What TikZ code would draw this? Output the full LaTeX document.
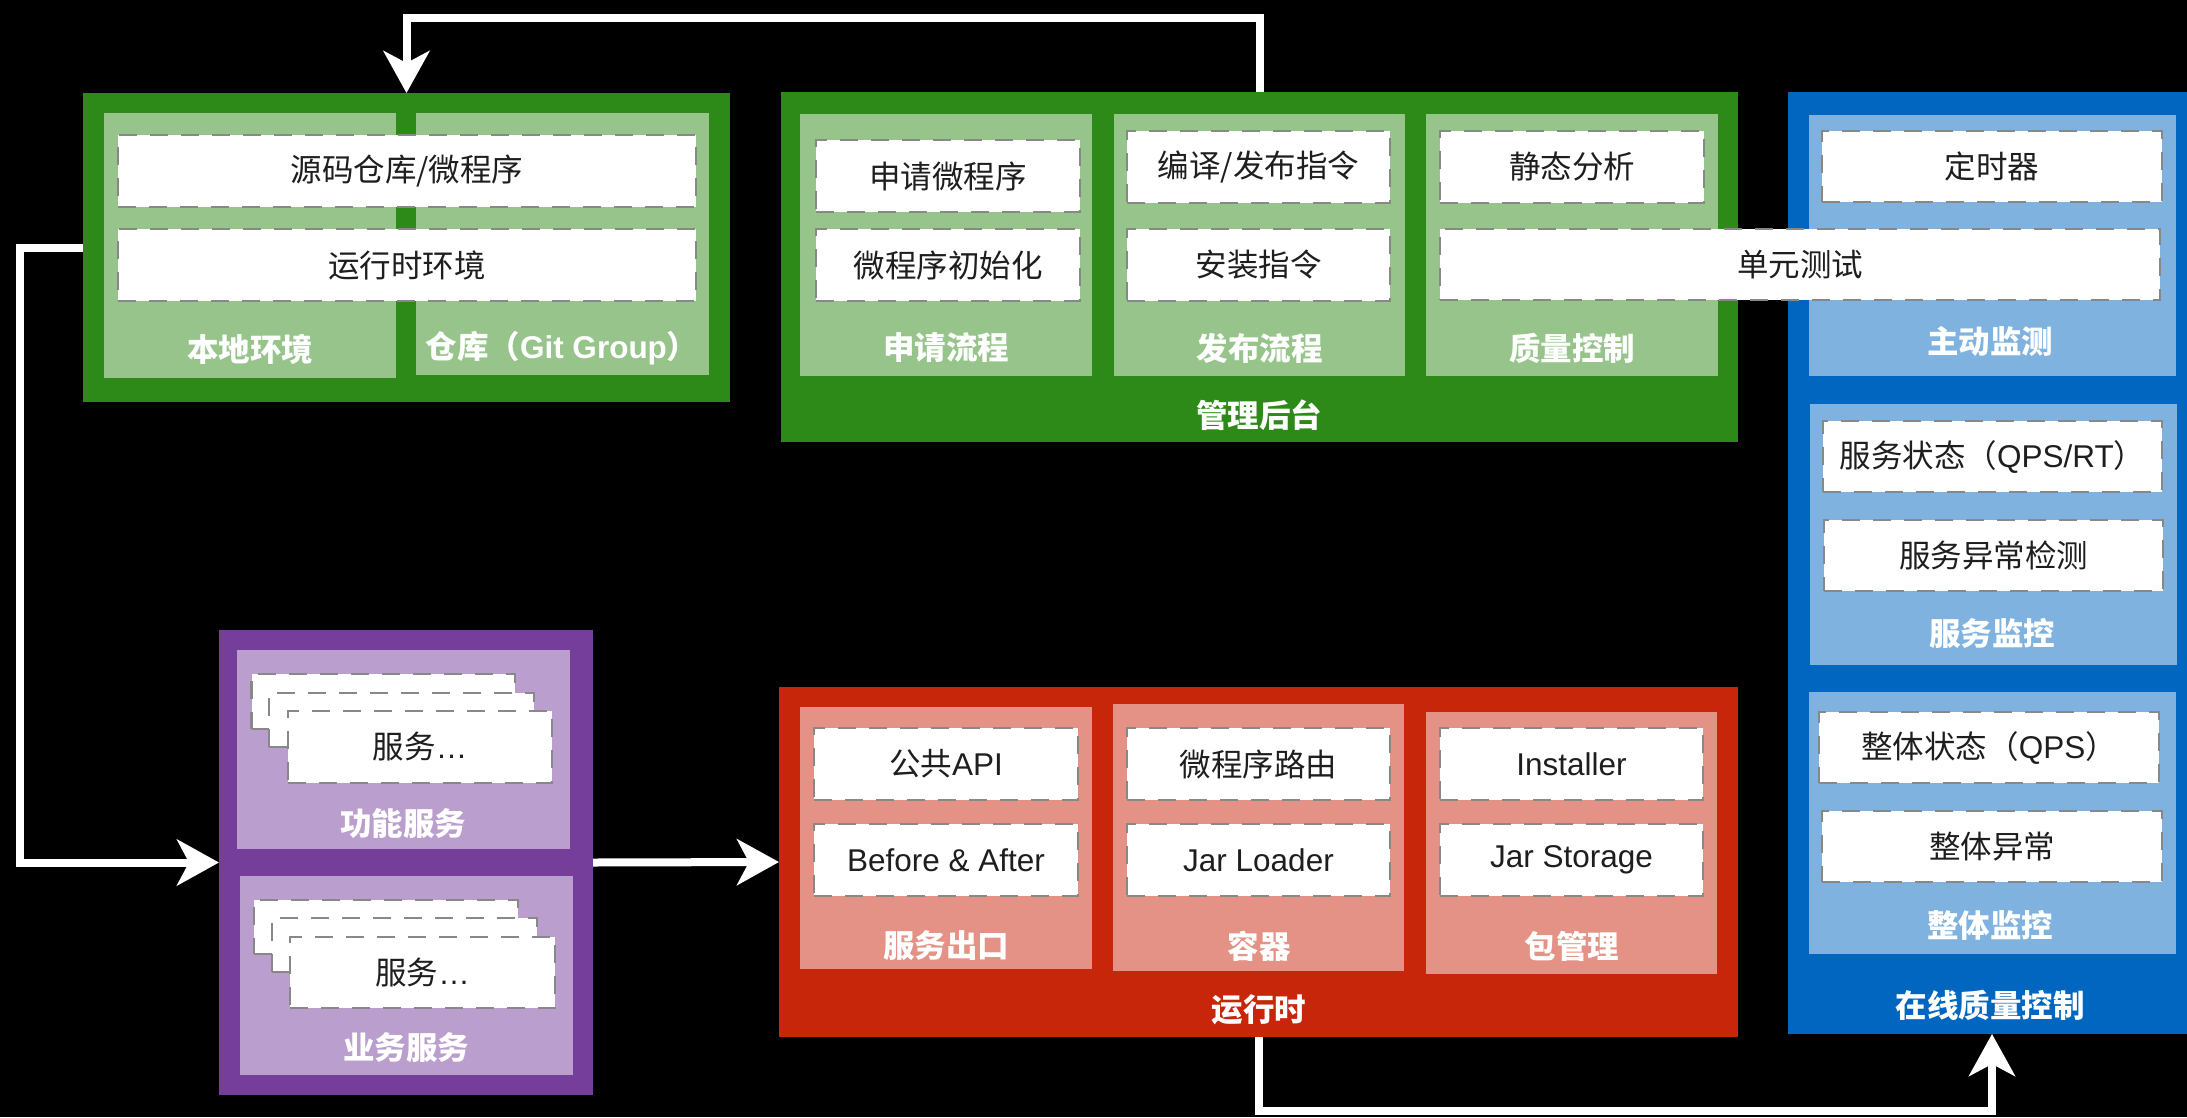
\documentclass[tikz,border=0pt]{standalone}
\usepackage{fontspec}
\setmainfont{Liberation Sans}
\newfontfamily\zh{Noto Sans CJK SC}
\usetikzlibrary{arrows.meta}
\definecolor{greenD}{RGB}{46,138,24}
\definecolor{greenL}{RGB}{150,196,139}
\definecolor{purpD}{RGB}{118,62,155}
\definecolor{purpL}{RGB}{186,158,205}
\definecolor{redD}{RGB}{200,38,10}
\definecolor{redL}{RGB}{227,146,133}
\definecolor{blueD}{RGB}{0,102,192}
\definecolor{blueL}{RGB}{127,178,223}
\definecolor{dashgray}{RGB}{136,136,136}
\definecolor{txtc}{RGB}{30,30,30}
\newcommand\txtfont{\fontsize{31.5}{36}\selectfont}
\newcommand\lblfont{\fontsize{31.5}{36}\selectfont\bfseries}
\newcommand\boxc[7]{\node[#1, minimum width={#4-#2}, minimum height={#5-#3}] (#6) at ({(#2+#4)/2},{(#3+#5)/2}) {#7};}
\tikzset{
  outerbox/.style={rectangle, inner sep=0pt, outer sep=0pt, draw=none},
  dbox/.style={rectangle, inner sep=0pt, outer sep=0pt, fill=white, draw=dashgray, line width=2.7pt, dash pattern=on 18pt off 13pt, font=\txtfont, text=txtc},
  lbl/.style={inner sep=0pt, font=\lblfont, text=white},
  conn/.style={draw=white, line width=8pt, -{Stealth[length=42pt,width=46pt,inset=12pt]}},
}
\begin{document}
\begin{tikzpicture}[x=1pt,y=-1pt]
\fill[black] (0,0) rectangle (2187,1117);
\useasboundingbox (0,0) rectangle (2187,1117);

% ---------- local env / repo ----------
\boxc{outerbox,fill=greenD}{83}{93}{730}{402}{G1}{}
\boxc{outerbox,fill=greenL}{104}{113}{396}{378}{G1a}{}
\boxc{outerbox,fill=greenL}{416}{113}{709}{375}{G1b}{}
\boxc{dbox}{118}{135}{696}{207}{d11}{\zh 源码仓库/微程序}
\boxc{dbox}{118}{229}{696}{301}{d12}{\zh 运行时环境}
\node[lbl] (l11) at (250,349) {\zh 本地环境};
\node[lbl] (l12) at (562,348) {{\zh 仓库（}Git Group{\zh ）}};

% ---------- admin ----------
\boxc{outerbox,fill=greenD}{781}{92}{1738}{442}{G2}{}
\boxc{outerbox,fill=greenL}{800}{114}{1092}{376}{G2a}{}
\boxc{outerbox,fill=greenL}{1114}{114}{1405}{376}{G2b}{}
\boxc{outerbox,fill=greenL}{1426}{114}{1718}{376}{G2c}{}
\boxc{dbox}{816}{140}{1080}{212}{d21}{\zh 申请微程序}
\boxc{dbox}{816}{229}{1080}{301}{d22}{\zh 微程序初始化}
\boxc{dbox}{1127}{131}{1390}{203}{d23}{\zh 编译/发布指令}
\boxc{dbox}{1127}{229}{1390}{301}{d24}{\zh 安装指令}
\boxc{dbox}{1440}{131}{1704}{203}{d25}{\zh 静态分析}
\node[lbl] (l21) at (946,348) {\zh 申请流程};
\node[lbl] (l22) at (1259.5,348) {\zh 发布流程};
\node[lbl] (l23) at (1572,348) {\zh 质量控制};
\node[lbl] (l24) at (1259,415) {\zh 管理后台};

% ---------- online quality ----------
\boxc{outerbox,fill=blueD}{1788}{92}{2196}{1034}{B}{}
\boxc{outerbox,fill=blueL}{1809}{115}{2176}{376}{Ba}{}
\boxc{outerbox,fill=blueL}{1810}{404}{2177}{665}{Bb}{}
\boxc{outerbox,fill=blueL}{1809}{692}{2176}{954}{Bc}{}
\boxc{dbox}{1822}{131}{2162}{202}{d31}{\zh 定时器}
\boxc{dbox}{1823}{421}{2162}{492}{d32}{{\zh 服务状态（}QPS/RT{\zh ）}}
\boxc{dbox}{1824}{520}{2163}{591}{d33}{\zh 服务异常检测}
\boxc{dbox}{1819}{712}{2159}{783}{d34}{{\zh 整体状态（}QPS{\zh ）}}
\boxc{dbox}{1822}{811}{2162}{882}{d35}{\zh 整体异常}
\node[lbl] (l31) at (1990,341) {\zh 主动监测};
\node[lbl] (l32) at (1992,633) {\zh 服务监控};
\node[lbl] (l33) at (1990,925) {\zh 整体监控};
\node[lbl] (l34) at (1990,1005) {\zh 在线质量控制};
\boxc{dbox}{1440}{229}{2160}{300}{d26}{\zh 单元测试}

% ---------- services ----------
\boxc{outerbox,fill=purpD}{219}{630}{593}{1095}{U}{}
\boxc{outerbox,fill=purpL}{237}{650}{570}{849}{Ua}{}
\boxc{outerbox,fill=purpL}{240}{876}{573}{1075}{Ub}{}
\boxc{dbox}{251.5}{674}{515}{729}{s11}{}
\boxc{dbox}{269}{693}{534}{747}{s12}{}
\boxc{dbox}{288}{711}{552}{783}{s13}{{\zh 服务}…}
\boxc{dbox}{254}{900}{518}{954}{s21}{}
\boxc{dbox}{272}{918}{537}{972}{s22}{}
\boxc{dbox}{290}{937}{555}{1008}{s23}{{\zh 服务}…}
\node[lbl] (l41) at (403,824) {\zh 功能服务};
\node[lbl] (l42) at (406,1048) {\zh 业务服务};

% ---------- runtime ----------
\boxc{outerbox,fill=redD}{779}{687}{1738}{1037}{R}{}
\boxc{outerbox,fill=redL}{800}{707}{1092}{969}{Ra}{}
\boxc{outerbox,fill=redL}{1113}{704}{1404}{971}{Rb}{}
\boxc{outerbox,fill=redL}{1426}{712}{1717}{974}{Rc}{}
\boxc{dbox}{814}{728}{1078}{800}{d51}{{\zh 公共}API}
\boxc{dbox}{814}{824}{1078}{896}{d52}{Before \& After}
\boxc{dbox}{1127}{728}{1390}{800}{d53}{\zh 微程序路由}
\boxc{dbox}{1127}{824}{1390}{896}{d54}{Jar Loader}
\boxc{dbox}{1440}{728}{1703}{800}{d55}{Installer}
\boxc{dbox}{1440}{824}{1703}{896}{d56}{Jar Storage}
\node[lbl] (l51) at (946,946) {\zh 服务出口};
\node[lbl] (l52) at (1259,946) {\zh 容器};
\node[lbl] (l53) at (1572,946) {\zh 包管理};
\node[lbl] (l54) at (1259,1010) {\zh 运行时};

% ---------- connectors ----------
\coordinate (topy) at (0,18);
\coordinate (leftx) at (20,0);
\coordinate (boty) at (0,1111);
\draw[conn] (G2.north) -- (G2.north |- topy) -| (G1.north);
\draw[conn] (G1.west) -- (G1.west -| leftx) |- (U.west);
\draw[conn] (U.east) -- (R.west);
\draw[conn] (R.south) -- (R.south |- boty) -| (B.south);
\end{tikzpicture}
\end{document}
